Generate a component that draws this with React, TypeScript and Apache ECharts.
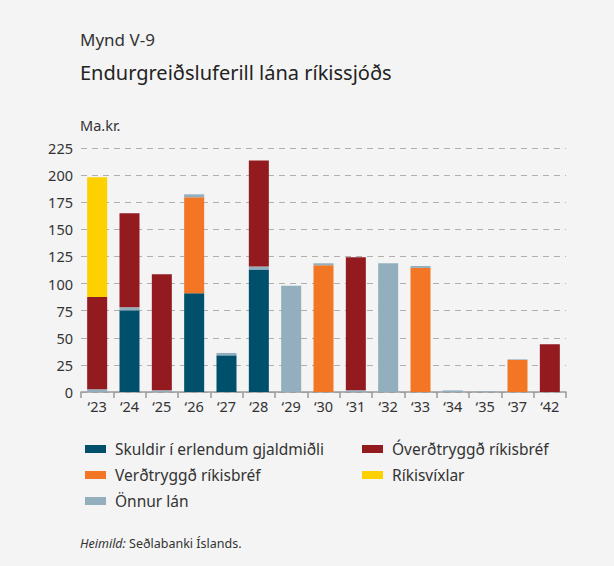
import React, { useEffect, useRef } from "react";
import * as echarts from "echarts";

const categories = ["‘23", "‘24", "‘25", "‘26", "‘27", "‘28", "‘29", "‘30", "‘31", "‘32", "‘33", "‘34", "‘35", "‘37", "‘42"];
const skuldir = [0, 75.3, 0, 91, 33.8, 113, 0, 0, 0, 0, 0, 0, 0, 0, 0];
const verdtryggd = [0, 0, 0, 88.5, 0, 0, 0, 116.8, 0, 0, 114.4, 0, 0, 29.5, 0];
const onnur = [2.5, 2.8, 1.5, 2.8, 2.2, 2.8, 98, 1.9, 1.5, 118.7, 1.8, 1.5, 0.6, 0.6, 0];
const overdtryggd = [85, 86.7, 107, 0, 0, 97.7, 0, 0, 122.7, 0, 0, 0, 0, 0, 44];
const rikisvixlar = [110.5, 0, 0, 0, 0, 0, 0, 0, 0, 0, 0, 0, 0, 0, 0];

const names = [
  "Skuldir í erlendum gjaldmiðli",
  "Verðtryggð ríkisbréf",
  "Önnur lán",
  "Óverðtryggð ríkisbréf",
  "Ríkisvíxlar",
];
const colors = ["#004f6b", "#f37624", "#93afbd", "#931a1f", "#fdd000"];
const seriesData = [skuldir, verdtryggd, onnur, overdtryggd, rikisvixlar];

const FONT = "'Noto Sans', 'Open Sans', sans-serif";

export default function App() {
  const ref = useRef<HTMLDivElement>(null);
  useEffect(() => {
    if (!ref.current) return;
    const chart = echarts.init(ref.current, undefined, { renderer: "svg" });
    chart.setOption({
      animation: false,
      backgroundColor: "#f4f4f4",
      textStyle: { fontFamily: FONT },
      grid: { left: 81, right: 48, top: 148, bottom: 174, containLabel: false },
      xAxis: {
        type: "category",
        data: categories,
        axisLine: { lineStyle: { color: "#9a9a9a", width: 1.5 } },
        axisTick: { show: true, length: 6, lineStyle: { color: "#9a9a9a", width: 1.5 } },
        axisLabel: { color: "#333", fontSize: 14.5, margin: 6, fontFamily: FONT },
      },
      yAxis: {
        type: "value",
        min: 0,
        max: 225,
        interval: 25,
        axisLine: { show: false },
        axisTick: { show: false },
        axisLabel: { color: "#333", fontSize: 14.5, margin: 8, fontFamily: FONT },
        splitLine: { lineStyle: { color: "#b0b0b0", type: [6, 5], width: 1.2 } },
      },
      legend: [
        {
          data: names.slice(0, 3),
          orient: "vertical",
          left: 80,
          top: 436,
          itemWidth: 21,
          itemHeight: 8,
          itemGap: 10,
          icon: "rect",
          textStyle: { color: "#333", fontSize: 15.5, fontFamily: FONT, padding: [0, 0, 0, 4] },
        },
        {
          data: names.slice(3),
          orient: "vertical",
          left: 357,
          top: 436,
          itemWidth: 21,
          itemHeight: 8,
          itemGap: 10,
          icon: "rect",
          textStyle: { color: "#333", fontSize: 15.5, fontFamily: FONT, padding: [0, 0, 0, 4] },
        },
      ],
      graphic: [
        { type: "text", left: 80, top: 31, style: { text: "Mynd V-9", fontSize: 17, fill: "#333", fontFamily: FONT } },
        { type: "text", left: 80, top: 62, style: { text: "Endurgreiðsluferill lána ríkissjóðs", fontSize: 20, fill: "#222", fontFamily: FONT } },
        { type: "text", left: 80, top: 117, style: { text: "Ma.kr.", fontSize: 14.5, fill: "#333", fontFamily: FONT } },
        {
          type: "text",
          left: 80,
          top: 537,
          style: {
            text: "{i|Heimild:} Seðlabanki Íslands.",
            fontSize: 12.5,
            fill: "#333",
            fontFamily: FONT,
            rich: { i: { fontStyle: "italic", fontSize: 12.5, fill: "#333", fontFamily: FONT } },
          },
        },
      ],
      series: names.map((n, i) => ({
        name: n,
        type: "bar",
        stack: "total",
        barWidth: 20,
        data: seriesData[i],
        itemStyle: { color: colors[i] },
      })),
    });
    return () => chart.dispose();
  }, []);
  return (
    <div
      ref={ref}
      style={{ position: "absolute", left: 0, top: 0, width: 614, height: 566 }}
    />
  );
}
